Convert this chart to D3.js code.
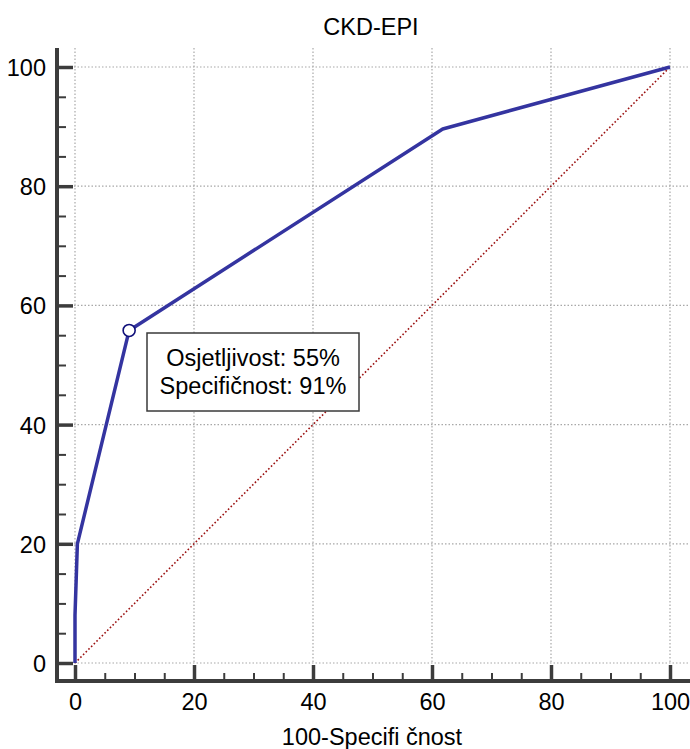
<!DOCTYPE html>
<html><head><meta charset="utf-8">
<script src="https://cdn.jsdelivr.net/npm/d3@7"></script>
<style>body{margin:0;background:#fff}svg{display:block}text{font-family:"Liberation Sans",Arial,sans-serif}</style>
</head><body><svg id="c" width="690" height="749"></svg>
<script>
const title = "CKD-EPI";
const xLabel = "100-Specifi čnost";
const rocX = [0, 0, 0.4, 9.1, 61.8, 100];
const rocY = [0, 8, 20, 55.8, 89.6, 100];
const refX = [0, 100];
const refY = [0, 100];
const cutX = [9.1];
const cutY = [55.8];
const majorTicks = [0, 20, 40, 60, 80, 100];
const minorTicks = d3.range(0, 101, 5).filter(v => v % 20 !== 0);
const boxLines = ["Osjetljivost: 55%", "Specifičnost: 91%"];

const FS = "23.5px";
const svg = d3.select("#c");
const x = d3.scaleLinear().domain([0, 100]).range([75, 670]);
const y = d3.scaleLinear().domain([0, 100]).range([663, 67]);
const axisCol = "#3c3c3c";

// grid
const g = svg.append("g");
g.selectAll("line.gx").data(majorTicks).join("line")
  .attr("x1", d => x(d)).attr("x2", d => x(d)).attr("y1", 48).attr("y2", 664)
  .attr("stroke", "#a8a8a8").attr("stroke-width", 1.2).attr("stroke-dasharray", "1.5,2");
g.selectAll("line.gy").data(majorTicks).join("line")
  .attr("x1", 74).attr("x2", 688).attr("y1", d => y(d)).attr("y2", d => y(d))
  .attr("stroke", "#a8a8a8").attr("stroke-width", 1.2).attr("stroke-dasharray", "1.5,2");

// axes
const yAxisMajor = d3.axisLeft(y).tickValues(majorTicks).tickSize(16).tickPadding(9);
const yAxisMinor = d3.axisLeft(y).tickValues(minorTicks).tickSize(9).tickFormat("");
const xAxisMajor = d3.axisBottom(x).tickValues(majorTicks).tickSize(16).tickPadding(8);
const xAxisMinor = d3.axisBottom(x).tickValues(minorTicks).tickSize(8).tickFormat("");

function styleAxis(sel, w) {
  sel.select(".domain").remove();
  sel.selectAll(".tick line").attr("stroke", axisCol).attr("stroke-width", w);
  sel.selectAll(".tick text").attr("fill", "#000").style("font-size", FS)
    .style("font-family", '"Liberation Sans",Arial,sans-serif');
}
const ya = svg.append("g").attr("transform", "translate(57,0)");
ya.append("g").call(yAxisMinor).call(s => styleAxis(s, 2))
  .selectAll(".tick line").attr("x2", 9);
ya.append("g").call(yAxisMajor).call(s => styleAxis(s, 3.5))
  .selectAll(".tick line").attr("x2", 16);
ya.selectAll(".tick text").attr("x", -11).attr("dy", "0.36em");

const xa = svg.append("g").attr("transform", "translate(0,681)");
xa.append("g").call(xAxisMinor).call(s => styleAxis(s, 2))
  .selectAll(".tick line").attr("y2", -8);
xa.append("g").call(xAxisMajor).call(s => styleAxis(s, 3.5))
  .selectAll(".tick line").attr("y2", -16);
xa.selectAll(".tick text").attr("y", 29).attr("dy", "0");

svg.append("line").attr("x1", 57).attr("x2", 57).attr("y1", 48).attr("y2", 683)
  .attr("stroke", axisCol).attr("stroke-width", 4);
svg.append("line").attr("x1", 55).attr("x2", 690).attr("y1", 681).attr("y2", 681)
  .attr("stroke", axisCol).attr("stroke-width", 4);

// reference diagonal
const line = d3.line().x(d => x(d[0])).y(d => y(d[1]));
svg.append("path").datum(refX.map((v, i) => [v, refY[i]]))
  .attr("d", line).attr("fill", "none").attr("stroke", "#9b1010")
  .attr("stroke-width", 1.6).attr("stroke-dasharray", "1.6,2.2");

// ROC
svg.append("path").datum(rocX.map((v, i) => [v, rocY[i]]))
  .attr("d", line).attr("fill", "none").attr("stroke", "#3434a0")
  .attr("stroke-width", 3.5).attr("stroke-linejoin", "round");

svg.selectAll("circle.cut").data(cutX.map((v, i) => [v, cutY[i]])).join("circle")
  .attr("cx", d => x(d[0])).attr("cy", d => y(d[1])).attr("r", 6)
  .attr("fill", "#fff").attr("stroke", "#10107a").attr("stroke-width", 1.6);

// annotation box
const bx = svg.append("g");
bx.append("rect").attr("x", 147).attr("y", 333).attr("width", 212).attr("height", 78)
  .attr("fill", "#fff").attr("stroke", "#3a3a3a").attr("stroke-width", 1.5);
bx.selectAll("text").data(boxLines).join("text")
  .attr("x", 253).attr("y", (d, i) => 366 + i * 28).attr("text-anchor", "middle")
  .style("font-size", FS).text(d => d);

svg.append("text").attr("x", 371).attr("y", 35).attr("text-anchor", "middle")
  .style("font-size", FS).text(title);
svg.append("text").attr("x", 372).attr("y", 745).attr("text-anchor", "middle")
  .style("font-size", FS).text(xLabel);
</script></body></html>
